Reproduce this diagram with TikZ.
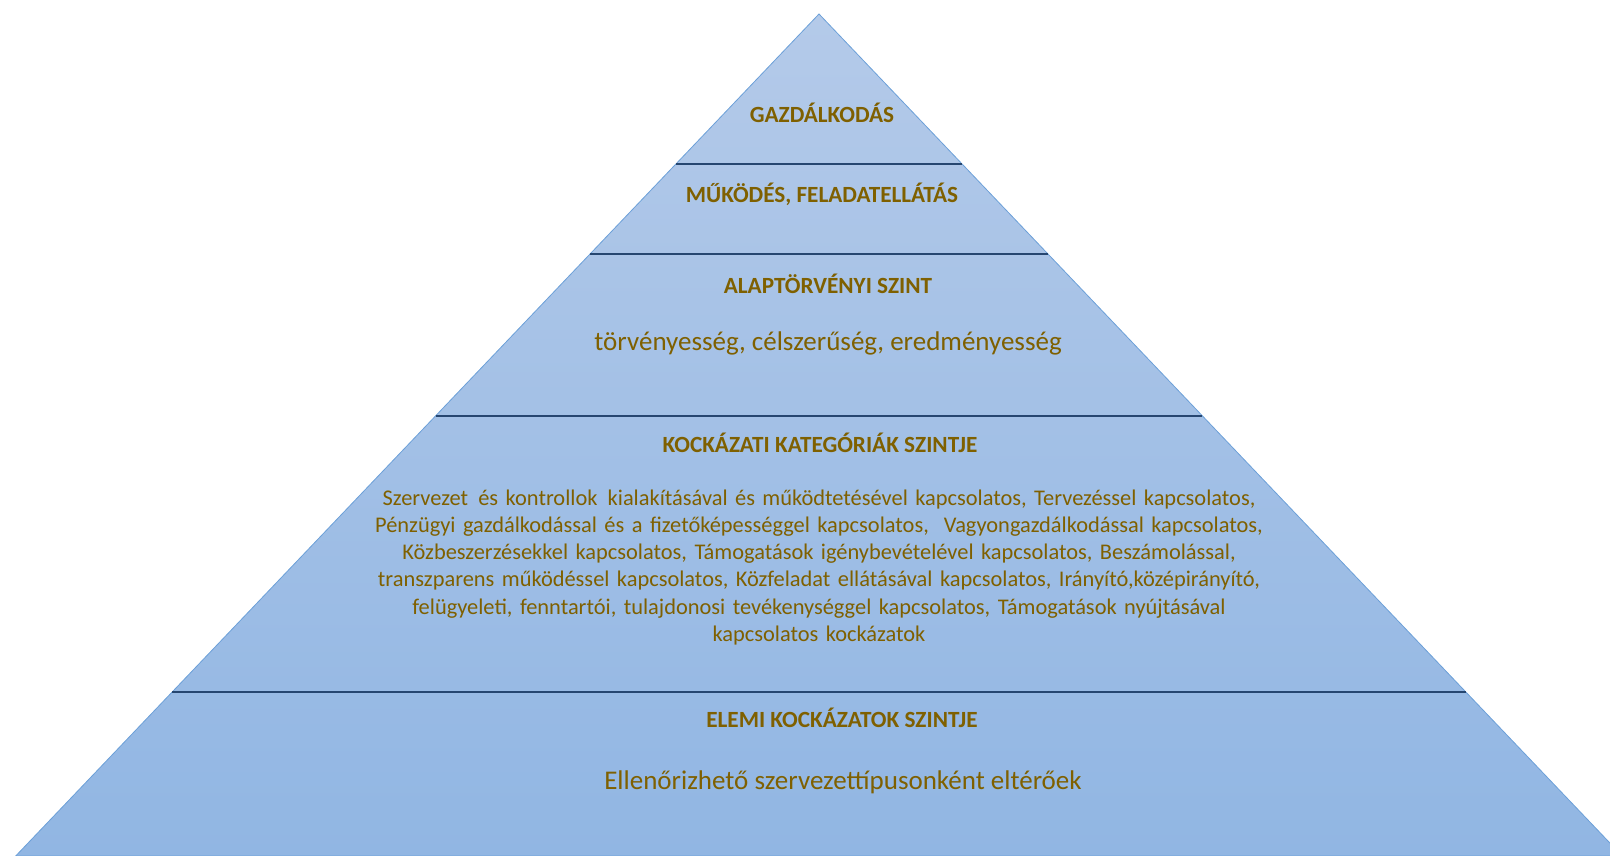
\documentclass[tikz,border=0pt]{standalone}
\usepackage{fontspec}
\setmainfont{Carlito}
\usetikzlibrary{calc,positioning}

\definecolor{levelgold}{RGB}{127,96,0}
\definecolor{topfill}{RGB}{180,202,233}
\definecolor{bottomfill}{RGB}{145,182,227}
\definecolor{edgeblue}{RGB}{108,160,216}
\definecolor{dividerblue}{RGB}{38,70,112}

\begin{document}
\begin{tikzpicture}[x=1pt,y=-1pt,
    every node/.style={text=levelgold, inner sep=0pt},
    leveltitle/.style={font=\fontsize{23.2}{27}\selectfont\bfseries, anchor=base},
    levelnote/.style={font=\fontsize{27}{32}\selectfont, anchor=base},
    divider/.style={draw=dividerblue, line width=2pt}]
       \useasboundingbox (0,0) rectangle (1610,856);
       \clip (0,0) rectangle (1610,856);

       \coordinate (apex) at (819,14);
       \coordinate (bl) at (15.7,856);
       \coordinate (br) at (1622.3,856);
       \shade[top color=topfill, bottom color=bottomfill, draw=edgeblue, line width=0.8pt]
         (apex) -- (bl) -- (br) -- cycle;

       \foreach \t in {0.178,0.285,0.477,0.805}
         \draw[divider] ($(apex)!\t!(bl)$) -- ($(apex)!\t!(br)$);

       \node[leveltitle] (gazd) at (822,123) {GAZDÁLKODÁS};
       \node[leveltitle] (mukodes) at (822,202) {MŰKÖDÉS, FELADATELLÁTÁS};
       \node[leveltitle] (alap) at (828,293) {ALAPTÖRVÉNYI SZINT};
       \node[levelnote] (alapsub) at (828,350) {törvényesség, célszerűség, eredményesség};
       \node[leveltitle] (kockkat) at (820,452) {KOCKÁZATI KATEGÓRIÁK SZINTJE};
       \node[anchor=base, text width=1000pt, align=center,
             font=\fontsize{22.4}{27.3}\selectfont] (kockkattext) at (819,505)
         {Szervezet\hspace{0.12em} és kontrollok\hspace{0.12em} kialakításával és működtetésével kapcsolatos, Tervezéssel kapcsolatos,\\
          Pénzügyi gazdálkodással és a fizetőképességgel kapcsolatos,\ \ Vagyongazdálkodással kapcsolatos,\\
          Közbeszerzésekkel kapcsolatos, Támogatások igénybevételével kapcsolatos, Beszámolással,\\
          transzparens működéssel kapcsolatos, Közfeladat ellátásával kapcsolatos, Irányító,középirányító,\\
          felügyeleti, fenntartói, tulajdonosi tevékenységgel kapcsolatos, Támogatások nyújtásával\\
          kapcsolatos kockázatok};
       \node[leveltitle] (elemi) at (842,727) {ELEMI KOCKÁZATOK SZINTJE};
       \node[levelnote] (elemisub) at (843,789) {Ellenőrizhető szervezettípusonként eltérőek};

     \end{tikzpicture}
\end{document}
